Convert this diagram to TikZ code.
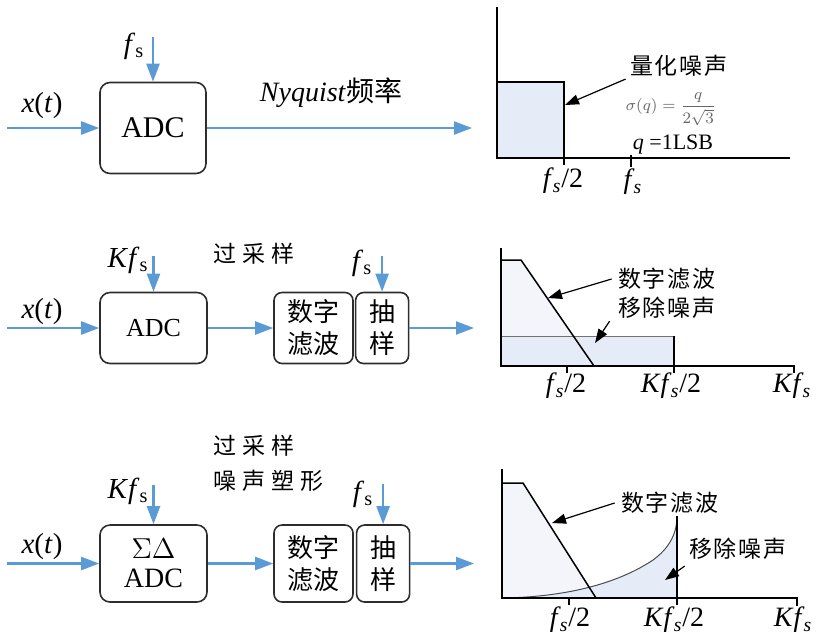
\documentclass[tikz,border=0pt]{standalone}
\usepackage{fontspec}
\setmainfont{Liberation Serif}
\newfontfamily\cjk{Noto Sans CJK SC}
\usepackage{xcolor}
\usepackage{tikz}
\usetikzlibrary{positioning,arrows.meta}
\definecolor{sigblue}{RGB}{91,155,213}
\definecolor{noisefill}{RGB}{230,236,247}
\definecolor{filtfill}{RGB}{243,245,250}
\definecolor{boxline}{RGB}{45,45,45}
\newcommand{\fsu}{\textit{f}\textsubscript{s}}
\newcommand{\fsi}{\textit{f}\textsubscript{\kern-0.5pt\textit{s}}}

\begin{document}
\begin{tikzpicture}[x=0.5pt,y=-0.5pt]
  \tikzstyle{blk}=[rectangle,rounded corners=5pt,draw=boxline,line width=0.8pt,align=center,inner sep=0pt]
  \tikzstyle{sig}=[draw=sigblue,line width=1.1pt,-{Triangle[length=9pt,width=6.5pt]}]
  \tikzstyle{axis}=[draw=black,line width=0.75pt]
  \tikzstyle{callout}=[draw=black,line width=0.6pt,-{Triangle[length=7pt,width=5pt]}]
  \tikzstyle{lbl}=[inner sep=0pt,font=\fontsize{14.5}{16}\selectfont]
  \tikzstyle{cjklbl}=[inner sep=0pt,font=\fontsize{11.5}{14}\selectfont\cjk]
  \tikzstyle{ticklbl}=[inner sep=0pt,font=\fontsize{14}{16}\selectfont]
  \useasboundingbox (0,0) rectangle (817,634);

  % --- Nyquist ADC
  \node[blk,minimum width=53pt,minimum height=45.5pt,font=\fontsize{15}{17}\selectfont] (adcA) at (153,128) {ADC};
  \coordinate (inA) at (7,128);
  \coordinate (clkA) at (153,37);
  \coordinate (outA) at (472,128);
  \node[lbl] (xA) at (42,106) {\textit{x}(\textit{t})};
  \node[lbl] (fsA) at (134,46) {\fsu};
  \node[lbl,font=\fontsize{14}{16}\selectfont] (nyq) at (331,93) {\textit{Nyquist}{\cjk 频率}};
  \draw[sig] (inA) -- (adcA.west);
  \draw[sig] (clkA) -- (adcA.north);
  \draw[sig] (adcA.east) -- (outA);

  % --- oversampling ADC
  \node[blk,minimum width=53.5pt,minimum height=35.5pt,font=\fontsize{13}{15}\selectfont] (adcB) at (153.5,328) {ADC};
  \node[blk,rounded corners=4pt,minimum width=39.5pt,minimum height=35.5pt,font=\fontsize{13}{16}\selectfont\cjk] (filtB) at (313.5,328) {数字\\滤波};
  \node[blk,rounded corners=4pt,minimum width=26.5pt,minimum height=35.5pt,font=\fontsize{13}{16}\selectfont\cjk,right=0.5pt of filtB] (decB) {抽\\样};
  \coordinate (inB) at (7,328);
  \coordinate (clkB) at (153.5,256);
  \coordinate (clkB2) at ([yshift=18pt]decB.north);
  \coordinate (outB) at (474,328);
  \node[lbl] (xB) at (42,312) {\textit{x}(\textit{t})};
  \node[lbl] (kfsB) at (128,260) {\textit{K}\fsu};
  \node[lbl] (fsB) at (362,263) {\fsu};
  \node[cjklbl,anchor=west] (osB) at (213,254) {过\hspace{3pt}采\hspace{3pt}样};
  \draw[sig] (inB) -- (adcB.west);
  \draw[sig] (clkB) -- (adcB.north);
  \draw[sig] (adcB.east) -- (filtB.west);
  \draw[sig] (clkB2) -- (decB.north);
  \draw[sig] (decB.east) -- (outB);

  % --- sigma-delta ADC
  \node[blk,minimum width=53.5pt,minimum height=38.5pt,font=\fontsize{14}{14.5}\selectfont] (adcC) at (153.5,563.5) {$\Sigma\Delta$\\ADC};
  \node[blk,rounded corners=4pt,minimum width=39.5pt,minimum height=38.5pt,font=\fontsize{13}{16}\selectfont\cjk] (filtC) at (313.5,563.5) {数字\\滤波};
  \node[blk,rounded corners=4pt,minimum width=26.5pt,minimum height=38.5pt,font=\fontsize{13}{16}\selectfont\cjk,right=1pt of filtC] (decC) {抽\\样};
  \coordinate (inC) at (7,563.5);
  \coordinate (clkC) at (153.5,485);
  \coordinate (clkC2) at ([yshift=20pt]decC.north);
  \coordinate (outC) at (474,563.5);
  \node[lbl] (xC) at (42,547) {\textit{x}(\textit{t})};
  \node[lbl] (kfsC) at (128,491) {\textit{K}\fsu};
  \node[lbl] (fsC) at (363,494) {\fsu};
  \node[cjklbl,anchor=west] (osC) at (213,446) {过\hspace{3pt}采\hspace{3pt}样};
  \node[cjklbl,anchor=west] (nsC) at (213,481) {噪\hspace{3pt}声\hspace{3pt}塑\hspace{3pt}形};
  \draw[sig] (inC) -- (adcC.west);
  \draw[sig] (clkC) -- (adcC.north);
  \draw[sig] (adcC.east) -- (filtC.west);
  \draw[sig] (clkC2) -- (decC.north);
  \draw[sig] (decC.east) -- (outC);

  % --- spectrum, Nyquist
  \fill[noisefill] (497,82) rectangle (564,158);
  \draw[axis] (497,7) -- (497,158) -- (790,158);
  \draw[axis] (497,82) -- (564,82) -- (564,165);
  \draw[axis] (631,155) -- (631,167);
  \node[ticklbl] (tA1) at (563,181) {\fsi/2};
  \node[ticklbl] (tA2) at (633,182) {\fsi};
  \node[cjklbl] (qn) at (679,66) {量\hspace{1pt}化\hspace{1pt}噪\hspace{1pt}声};
  \node[inner sep=0pt,text=black!60,font=\fontsize{8}{9}\selectfont] (sig) at (671,109) {$\sigma(q)=\displaystyle\frac{q}{2\sqrt{3}}$};
  \node[inner sep=0pt,font=\fontsize{11}{13}\selectfont] (lsb) at (673,145) {\textit{q} =1LSB};
  \coordinate (qtip) at (565,105);
  \draw[callout] ([xshift=-2pt,yshift=-1pt]qn.south west) -- (qtip);

  % --- spectrum, oversampling
  \fill[filtfill] (501,366) -- (501,260) -- (521,260) -- (594,366) -- cycle;
  \fill[noisefill] (501,336) rectangle (674,366);
  \draw[black!55,line width=0.5pt] (501,336) -- (674,336);
  \draw[axis] (674,336) -- (674,373);
  \draw[axis] (501,260) -- (521,260) -- (594,366);
  \draw[axis] (501,248) -- (501,366) -- (794,366) -- (794,373);
  \draw[axis] (567,366) -- (567,373);
  \node[ticklbl] (tB1) at (566,386) {\fsi/2};
  \node[ticklbl] (tB2) at (671,386) {\textit{K}\fsi/2};
  \node[ticklbl] (tB3) at (792,386) {\textit{K}\fsi};
  \node[cjklbl] (dfB) at (667,279) {数\hspace{1pt}字\hspace{1pt}滤\hspace{1pt}波};
  \node[cjklbl] (rnB) at (667,308) {移\hspace{1pt}除\hspace{1pt}噪\hspace{1pt}声};
  \coordinate (dfBtip) at (548,298);
  \coordinate (rnBtip) at (595,343);
  \draw[callout] ([xshift=-3pt]dfB.west) -- (dfBtip);
  \draw[callout] ([xshift=-4pt,yshift=-1pt]rnB.south west) -- (rnBtip);

  % --- spectrum, noise shaping
  \fill[filtfill] (502,598) -- (502,483) -- (523,483) -- (596,598) -- cycle;
  \fill[noisefill] (502,598) .. controls (570,597) and (620,582) .. (653,560)
    .. controls (668,549) and (677,535) .. (677,516) -- (677,598) -- cycle;
  \draw[black!70,line width=0.5pt] (502,598) .. controls (570,597) and (620,582) .. (653,560)
    .. controls (668,549) and (677,535) .. (677,516);
  \draw[axis] (677,516) -- (677,605);
  \draw[axis] (502,483) -- (523,483) -- (596,598);
  \draw[axis] (502,469) -- (502,598) -- (797,598) -- (797,606);
  \draw[axis] (569,598) -- (569,605);
  \node[ticklbl] (tC1) at (570,620) {\fsi/2};
  \node[ticklbl] (tC2) at (674,620) {\textit{K}\fsi/2};
  \node[ticklbl] (tC3) at (793,620) {\textit{K}\fsi};
  \node[cjklbl] (dfC) at (670,503) {数\hspace{1pt}字\hspace{1pt}滤\hspace{1pt}波};
  \node[cjklbl] (rnC) at (738,549) {移\hspace{1pt}除\hspace{1pt}噪\hspace{1pt}声};
  \coordinate (dfCtip) at (552,523);
  \coordinate (rnCtip) at (665,580);
  \draw[callout] ([xshift=-3pt]dfC.west) -- (dfCtip);
  \draw[callout] ([xshift=-2pt,yshift=-3pt]rnC.south west) -- (rnCtip);
\end{tikzpicture}
\end{document}
